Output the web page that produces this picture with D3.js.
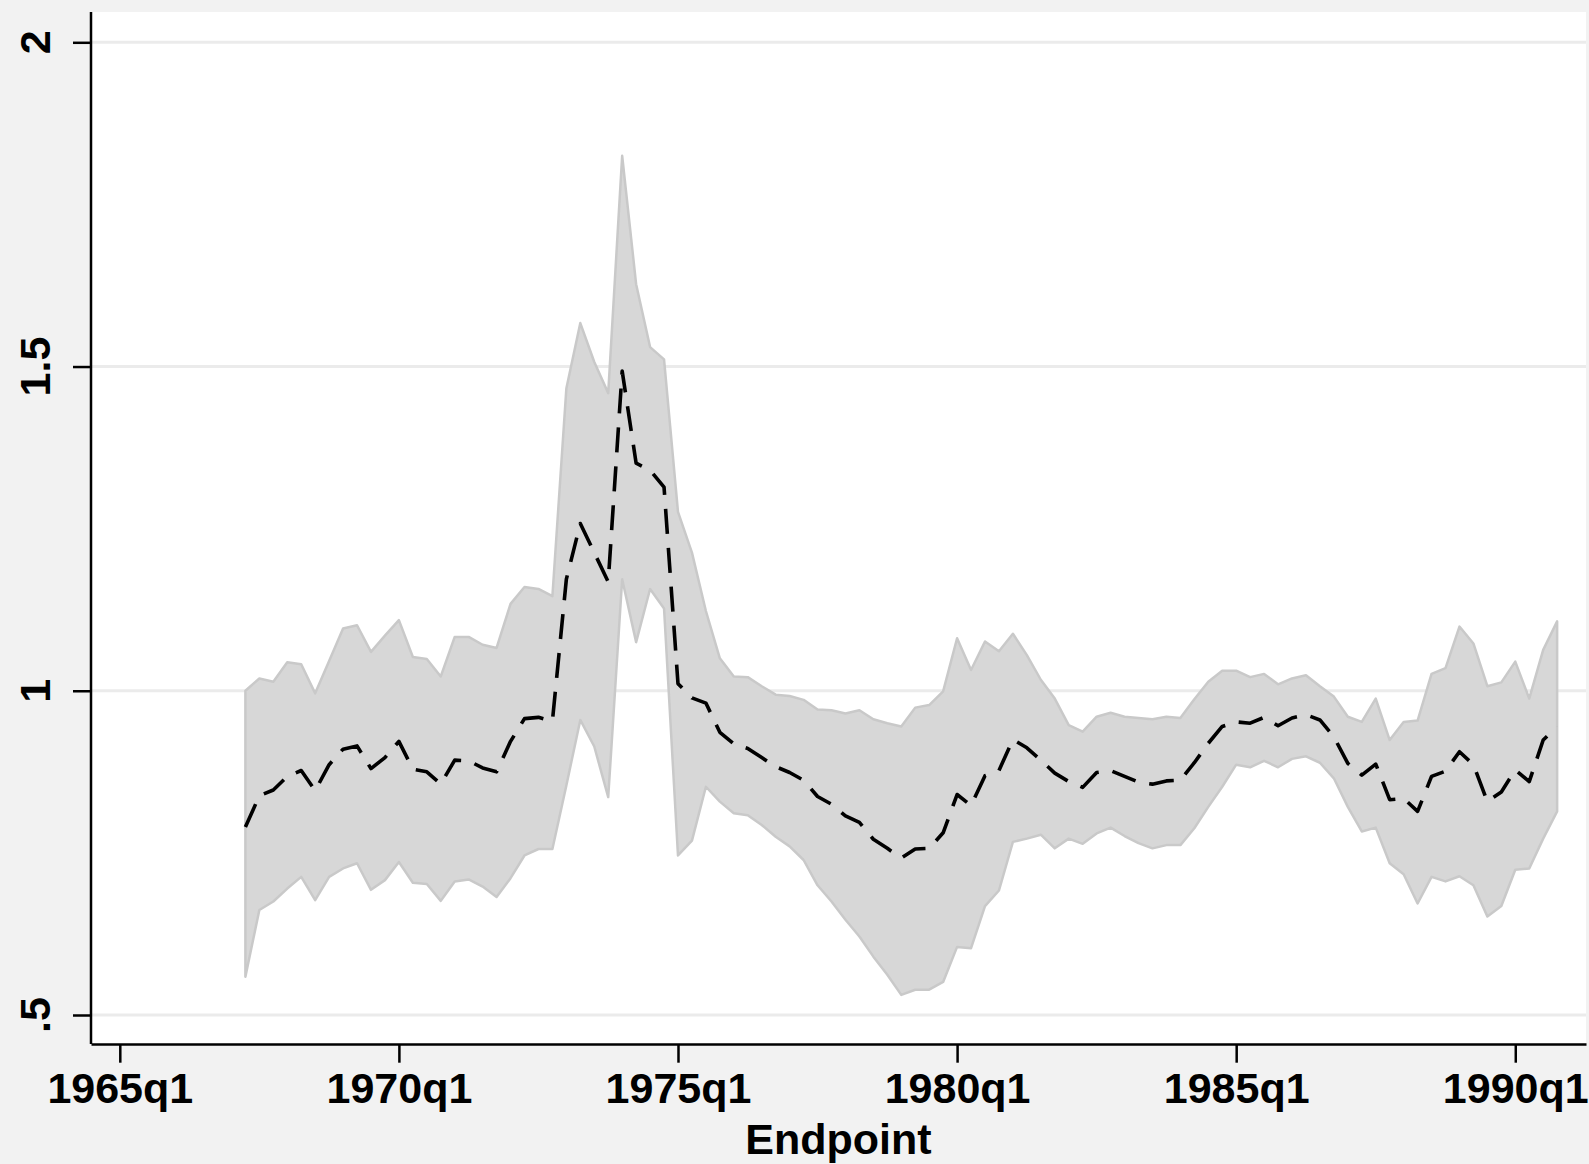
<!DOCTYPE html>
<html lang="en">
<head>
<meta charset="UTF-8">
<title>Endpoint</title>
<script src="https://d3js.org/d3.v7.min.js"></script>
<style>
    html, body {
        margin: 0;
        padding: 0;
        background: #f2f2f2;
        overflow: hidden;
    }
    svg {
        display: block;
    }
    .lbl {
        font-family: "Liberation Sans", Arial, Helvetica, sans-serif;
        font-weight: bold;
        font-size: 43px;
        letter-spacing: 0px;
        fill: #000;
    }
</style>
</head>
<body>
<svg width="1589" height="1164"></svg>
<script>
// quarters, 1967q2 .. 1990q4
const quarters = [
    "1967q2","1967q3","1967q4",
    "1968q1","1968q2","1968q3","1968q4","1969q1","1969q2","1969q3","1969q4",
    "1970q1","1970q2","1970q3","1970q4","1971q1","1971q2","1971q3","1971q4",
    "1972q1","1972q2","1972q3","1972q4","1973q1","1973q2","1973q3","1973q4",
    "1974q1","1974q2","1974q3","1974q4","1975q1","1975q2","1975q3","1975q4",
    "1976q1","1976q2","1976q3","1976q4","1977q1","1977q2","1977q3","1977q4",
    "1978q1","1978q2","1978q3","1978q4","1979q1","1979q2","1979q3","1979q4",
    "1980q1","1980q2","1980q3","1980q4","1981q1","1981q2","1981q3","1981q4",
    "1982q1","1982q2","1982q3","1982q4","1983q1","1983q2","1983q3","1983q4",
    "1984q1","1984q2","1984q3","1984q4","1985q1","1985q2","1985q3","1985q4",
    "1986q1","1986q2","1986q3","1986q4","1987q1","1987q2","1987q3","1987q4",
    "1988q1","1988q2","1988q3","1988q4","1989q1","1989q2","1989q3","1989q4",
    "1990q1","1990q2","1990q3","1990q4"
];

const estimate = [
    0.790, 0.838, 0.847,
    0.868, 0.877, 0.846, 0.886, 0.910, 0.915, 0.880, 0.897,
    0.922, 0.879, 0.875, 0.856, 0.893, 0.892, 0.881, 0.875,
    0.922, 0.957, 0.959, 0.953, 1.172, 1.258, 1.213, 1.168,
    1.493, 1.351, 1.340, 1.314, 1.011, 0.989, 0.981, 0.936,
    0.918, 0.911, 0.897, 0.883, 0.874, 0.862, 0.837, 0.825,
    0.807, 0.797, 0.771, 0.757, 0.742, 0.756, 0.757, 0.781,
    0.840, 0.823, 0.869, 0.877, 0.925, 0.912, 0.893, 0.873,
    0.860, 0.851, 0.874, 0.877, 0.868, 0.859, 0.856, 0.861,
    0.862, 0.889, 0.919, 0.945, 0.952, 0.950, 0.959, 0.946,
    0.958, 0.963, 0.955, 0.929, 0.888, 0.870, 0.887, 0.832,
    0.834, 0.814, 0.868, 0.876, 0.906, 0.886, 0.829, 0.844,
    0.878, 0.860, 0.924, 0.945
];

const upper = [
    1.000, 1.019, 1.014,
    1.044, 1.041, 0.996, 1.046, 1.096, 1.101, 1.060, 1.085,
    1.109, 1.052, 1.049, 1.022, 1.083, 1.083, 1.071, 1.066,
    1.134, 1.160, 1.157, 1.146, 1.466, 1.567, 1.507, 1.459,
    1.825, 1.627, 1.530, 1.511, 1.276, 1.213, 1.123, 1.050,
    1.022, 1.021, 1.007, 0.994, 0.992, 0.986, 0.971, 0.970,
    0.965, 0.970, 0.956, 0.950, 0.945, 0.974, 0.978, 0.999,
    1.081, 1.032, 1.076, 1.061, 1.088, 1.055, 1.017, 0.988,
    0.947, 0.937, 0.960, 0.966, 0.960, 0.958, 0.956, 0.960,
    0.958, 0.987, 1.014, 1.031, 1.031, 1.021, 1.026, 1.010,
    1.019, 1.024, 1.007, 0.991, 0.960, 0.952, 0.988, 0.924,
    0.952, 0.954, 1.026, 1.035, 1.099, 1.073, 1.007, 1.013,
    1.045, 0.988, 1.063, 1.107
];

const lower = [
    0.559, 0.662, 0.675,
    0.695, 0.713, 0.677, 0.713, 0.726, 0.734, 0.693, 0.708,
    0.736, 0.704, 0.702, 0.676, 0.706, 0.709, 0.698, 0.682,
    0.711, 0.746, 0.756, 0.756, 0.854, 0.955, 0.914, 0.836,
    1.172, 1.075, 1.157, 1.127, 0.746, 0.769, 0.852, 0.829,
    0.811, 0.808, 0.793, 0.775, 0.760, 0.739, 0.700, 0.675,
    0.647, 0.621, 0.590, 0.562, 0.531, 0.539, 0.539, 0.551,
    0.605, 0.603, 0.668, 0.692, 0.767, 0.772, 0.778, 0.757,
    0.772, 0.764, 0.780, 0.789, 0.776, 0.765, 0.757, 0.762,
    0.762, 0.788, 0.821, 0.852, 0.886, 0.882, 0.892, 0.882,
    0.895, 0.899, 0.889, 0.865, 0.821, 0.783, 0.789, 0.734,
    0.717, 0.672, 0.713, 0.706, 0.714, 0.700, 0.652, 0.668,
    0.724, 0.726, 0.772, 0.814
];

const xTickLabels = ["1965q1", "1970q1", "1975q1", "1980q1", "1985q1", "1990q1"];
const yTickValues = [0.5, 1, 1.5, 2];
const yTickLabels = [".5", "1", "1.5", "2"];
const xTitle = "Endpoint";

// "1975q1" -> 1975.0, "1975q3" -> 1975.5
function parseQ(s) {
    const [y, q] = s.split("q");
    return +y + (+q - 1) / 4;
}

const data = quarters.map((q, i) => ({
    t: parseQ(q), est: estimate[i], lo: lower[i], hi: upper[i]
}));

const plot = { left: 91, right: 1586, top: 12, bottom: 1044 };

const x = d3.scaleLinear()
    .domain([1964.484, 1991.267])
    .range([plot.left, plot.right]);

const y = d3.scaleLinear()
    .domain([0.5, 2])
    .range([1015, 42.3]);

const svg = d3.select("svg");

svg.append("rect")
    .attr("x", plot.left).attr("y", plot.top)
    .attr("width", plot.right - plot.left)
    .attr("height", plot.bottom - plot.top)
    .attr("fill", "#fff");

// gridlines
svg.append("g")
    .selectAll("line")
    .data(yTickValues)
    .join("line")
    .attr("x1", plot.left).attr("x2", plot.right)
    .attr("y1", d => y(d)).attr("y2", d => y(d))
    .attr("stroke", "#ebebeb")
    .attr("stroke-width", 3);

// confidence band
const area = d3.area()
    .x(d => x(d.t))
    .y0(d => y(d.lo))
    .y1(d => y(d.hi));

svg.append("path")
    .datum(data)
    .attr("d", d => area(d) + "Z")
    .attr("fill", "#d7d7d7")
    .attr("stroke", "#c9c9c9")
    .attr("stroke-width", 2.5)
    .attr("stroke-linejoin", "round");

// point estimate
const line = d3.line()
    .x(d => x(d.t))
    .y(d => y(d.est));

svg.append("path")
    .datum(data)
    .attr("d", line)
    .attr("fill", "none")
    .attr("stroke", "#000")
    .attr("stroke-width", 3.6)
    .attr("stroke-dasharray", "25,14")
    .attr("stroke-linejoin", "round");

// x axis
const xAxis = d3.axisBottom(x)
    .tickValues(xTickLabels.map(parseQ))
    .tickFormat((d, i) => xTickLabels[i])
    .tickSize(18.7)
    .tickSizeOuter(0)
    .tickPadding(10);

const gx = svg.append("g")
    .attr("transform", `translate(0,${plot.bottom})`)
    .call(xAxis);

gx.select(".domain").attr("stroke", "#000").attr("stroke-width", 2.5);
gx.selectAll(".tick line").attr("stroke", "#000").attr("stroke-width", 2.5);
gx.selectAll(".tick text")
    .attr("class", "lbl")
    .attr("font-family", null)
    .attr("font-size", null);

// y axis
const yAxis = d3.axisLeft(y)
    .tickValues(yTickValues)
    .tickFormat("")
    .tickSize(18)
    .tickSizeOuter(0);

const gy = svg.append("g")
    .attr("transform", `translate(${plot.left},0)`)
    .call(yAxis);

gy.select(".domain")
    .attr("d", `M0,${plot.top}V${plot.bottom}`)
    .attr("stroke", "#000").attr("stroke-width", 2.5);
gy.selectAll(".tick line").attr("stroke", "#000").attr("stroke-width", 2.5);

svg.append("g")
    .selectAll("text")
    .data(yTickValues)
    .join("text")
    .attr("class", "lbl")
    .attr("text-anchor", "middle")
    .attr("transform", d => `translate(50,${y(d)}) rotate(-90)`)
    .text((d, i) => yTickLabels[i]);

// axis title
svg.append("text")
    .attr("class", "lbl")
    .attr("text-anchor", "middle")
    .attr("x", (plot.left + plot.right) / 2)
    .attr("y", 1154)
    .text(xTitle);
</script>
</body>
</html>
